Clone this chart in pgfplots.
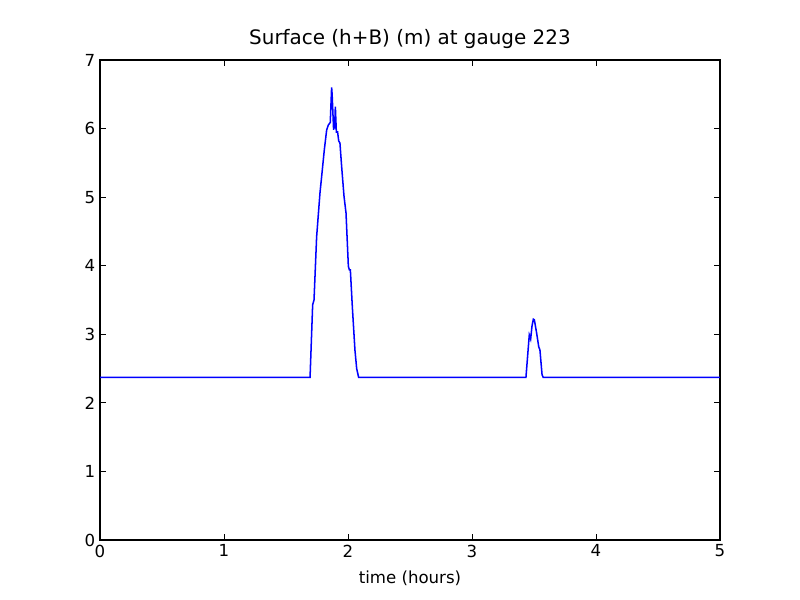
\documentclass[border=0pt]{standalone}
\usepackage{pgfplots}
\pgfplotsset{compat=1.18}
\usepackage{fontspec}
\setmainfont{DejaVu Sans}
\begin{document}
\begin{tikzpicture}
\begin{axis}[
  set layers,
  scale only axis,
  width=6.2in, height=4.8in,
  xmin=0, xmax=5, ymin=0, ymax=7,
  xtick={0,1,2,3,4,5}, ytick={0,1,2,3,4,5,6,7},
  tick align=inside,
  xtick pos=both, ytick pos=both,
  major tick length=4pt,
  minor tick num=0,
  clip=false,
  tick label style={font=\fontsize{12}{14}\selectfont},
  /pgf/number format/assume math mode=true,
  title={Surface (h+B) (m) at gauge 223},
  title style={font=\fontsize{14.4}{16}\selectfont, at={(0.5,1)}, anchor=base, yshift=5pt},
  xlabel={time (hours)},
  xlabel style={font=\fontsize{12}{14}\selectfont, yshift=-3pt},
  axis line style={line width=0.8pt},
  every tick/.style={black, line width=0.6pt},
]
\addplot[blue, line width=1.1pt] coordinates {
(0,2.37) (1.694,2.37) (1.715,3.43) (1.726,3.50) (1.747,4.42) (1.774,5.06)
(1.793,5.40) (1.809,5.69) (1.828,5.98) (1.841,6.05) (1.857,6.09)
(1.868,6.60) (1.872,6.50) (1.884,5.98) (1.889,6.10) (1.892,6.00)
(1.898,6.32) (1.906,5.95) (1.916,5.95) (1.925,5.82) (1.935,5.79)
(1.949,5.44) (1.968,5.01) (1.984,4.77) (2.003,3.99) (2.011,3.94)
(2.019,3.94) (2.035,3.40) (2.056,2.77) (2.070,2.50) (2.086,2.37)
(3.435,2.37) (3.462,2.99) (3.473,2.93) (3.484,3.12) (3.495,3.22)
(3.503,3.21) (3.522,3.01) (3.538,2.82) (3.548,2.77) (3.565,2.41)
(3.575,2.37) (5,2.37)
};
\addplot[black, line width=1.4pt, dash pattern=on 7.2pt off 4.8pt, on layer=axis foreground] coordinates {(0,0) (5,0)};
\end{axis}
\path[use as bounding box] (-1in,-0.6in) rectangle (7in,5.4in);
\end{tikzpicture}
\end{document}
